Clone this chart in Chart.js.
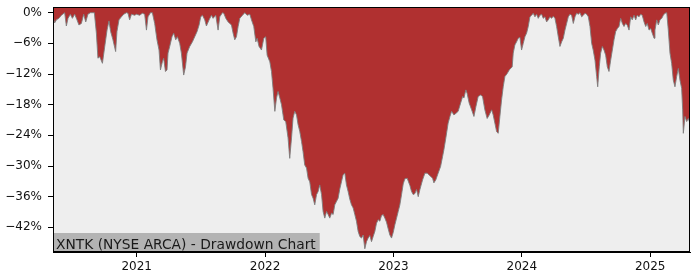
<!DOCTYPE html>
<html>
<head>
<meta charset="utf-8">
<script src="https://cdn.jsdelivr.net/npm/chart.js@4.4.1/dist/chart.umd.min.js"></script>
<style>
  html, body { margin: 0; padding: 0; background: #ffffff; }
  #wrap { width: 700px; height: 280px; }
</style>
</head>
<body>
<div id="wrap"><canvas id="c" width="700" height="280"></canvas></div>
<script>
// Decimal-year dates of the sampled points
const dates = [
  2020.348,2020.361,2020.374,2020.394,2020.413,2020.439,2020.452,2020.465,2020.483,2020.499,
  2020.517,2020.535,2020.550,2020.569,2020.587,2020.603,2020.620,2020.639,2020.670,2020.686,
  2020.698,2020.712,2020.733,2020.751,2020.769,2020.784,2020.797,2020.815,2020.836,2020.846,
  2020.862,2020.881,2020.899,2020.920,2020.932,2020.945,2020.959,2020.984,2020.998,2021.023,
  2021.044,2021.062,2021.076,2021.088,2021.107,2021.122,2021.140,2021.158,2021.174,2021.185,
  2021.200,2021.210,2021.224,2021.236,2021.244,2021.257,2021.275,2021.288,2021.304,2021.317,
  2021.335,2021.348,2021.366,2021.380,2021.392,2021.413,2021.434,2021.452,2021.470,2021.486,
  2021.499,2021.512,2021.530,2021.543,2021.564,2021.582,2021.595,2021.616,2021.634,2021.647,
  2021.668,2021.678,2021.694,2021.712,2021.725,2021.738,2021.751,2021.764,2021.777,2021.790,
  2021.803,2021.824,2021.842,2021.860,2021.881,2021.894,2021.912,2021.928,2021.938,2021.953,
  2021.972,2021.990,2022.005,2022.016,2022.037,2022.050,2022.062,2022.076,2022.089,2022.101,
  2022.115,2022.128,2022.146,2022.161,2022.179,2022.192,2022.206,2022.218,2022.231,2022.245,
  2022.257,2022.270,2022.284,2022.296,2022.309,2022.323,2022.335,2022.348,2022.362,2022.374,
  2022.387,2022.401,2022.413,2022.426,2022.440,2022.452,2022.465,2022.479,2022.491,2022.504,
  2022.518,2022.530,2022.543,2022.557,2022.569,2022.582,2022.595,2022.608,2022.621,2022.634,
  2022.647,2022.660,2022.673,2022.686,2022.699,2022.712,2022.725,2022.738,2022.751,2022.764,
  2022.777,2022.790,2022.803,2022.816,2022.829,2022.842,2022.855,2022.868,2022.881,2022.894,
  2022.907,2022.920,2022.933,2022.946,2022.959,2022.972,2022.985,2022.998,2023.011,2023.024,
  2023.037,2023.050,2023.063,2023.076,2023.089,2023.107,2023.128,2023.141,2023.154,2023.167,
  2023.180,2023.193,2023.206,2023.227,2023.245,2023.263,2023.284,2023.305,2023.315,2023.330,
  2023.348,2023.367,2023.383,2023.393,2023.408,2023.426,2023.440,2023.453,2023.471,2023.486,
  2023.504,2023.523,2023.539,2023.549,2023.564,2023.574,2023.590,2023.609,2023.627,2023.642,
  2023.660,2023.679,2023.694,2023.712,2023.730,2023.746,2023.765,2023.777,2023.790,2023.804,
  2023.816,2023.829,2023.842,2023.855,2023.868,2023.886,2023.902,2023.913,2023.925,2023.933,
  2023.946,2023.959,2023.972,2023.985,2023.998,2024.011,2024.024,2024.037,2024.050,2024.063,
  2024.076,2024.089,2024.102,2024.115,2024.128,2024.141,2024.154,2024.167,2024.180,2024.193,
  2024.206,2024.219,2024.232,2024.245,2024.258,2024.271,2024.284,2024.297,2024.310,2024.323,
  2024.336,2024.349,2024.362,2024.375,2024.388,2024.401,2024.414,2024.427,2024.440,2024.453,
  2024.466,2024.479,2024.492,2024.505,2024.518,2024.531,2024.544,2024.556,2024.570,2024.583,
  2024.591,2024.603,2024.614,2024.627,2024.640,2024.653,2024.666,2024.679,2024.692,2024.705,
  2024.718,2024.731,2024.744,2024.757,2024.770,2024.783,2024.796,2024.809,2024.821,2024.835,
  2024.848,2024.860,2024.874,2024.887,2024.899,2024.913,2024.926,2024.938,2024.952,2024.965,
  2024.977,2024.991,2025.004,2025.016,2025.030,2025.037,2025.051,2025.063,2025.076,2025.090,
  2025.102,2025.115,2025.129,2025.141,2025.154,2025.167,2025.180,2025.193,2025.206,2025.219,
  2025.232,2025.245,2025.253,2025.258,2025.271,2025.284,2025.297,2025.308
];

// Drawdown (%) at each date
const drawdown = [
  -0.8,-2.0,-1.4,-1.1,-0.5,0,-2.6,-1.1,-0.3,-1.1,
  -0.3,-1.4,-2.4,-2.1,-0.3,-1.8,-0.3,0,0,-4.0,
  -8.9,-8.6,-9.9,-6.6,-3.4,-1.6,-3.7,-5.3,-7.6,-3.7,
  -1.4,-0.8,-0.3,0,-0.1,-1.4,-0.3,-0.5,-0.3,-0.5,
  -0.1,-0.3,-3.4,-0.8,0,0,-2.1,-5.3,-7.3,-11.2,
  -9.6,-8.9,-11.5,-11.2,-7.9,-6.6,-4.7,-4.0,-5.3,-4.7,
  -6.0,-7.9,-12.2,-10.6,-7.9,-6.6,-5.7,-4.7,-3.7,-2.4,
  -0.8,-0.5,-1.4,-2.6,-1.4,-0.5,-1.1,-0.5,-3.4,-0.8,
  0,-0.1,-1.1,-1.8,-2.1,-2.4,-4.0,-5.3,-4.7,-2.7,
  -1.1,-0.5,0,-0.5,-0.3,-1.4,-2.7,-5.7,-5.0,-6.6,
  -7.3,-5.0,-4.7,-8.3,-9.6,-11.5,-14.8,-19.3,-16.7,-15.4,
  -16.7,-18.0,-21.0,-21.3,-24.5,-28.5,-24.5,-20.6,-19.3,-20.0,
  -21.9,-23.2,-25.2,-27.2,-29.8,-30.4,-32.4,-33.1,-35.6,-36.3,
  -37.6,-35.6,-35.0,-33.7,-35.6,-38.9,-40.2,-38.9,-39.5,-40.2,
  -39.2,-39.5,-37.6,-36.9,-36.3,-34.5,-33.1,-31.7,-31.4,-33.7,
  -35.0,-36.5,-37.6,-38.2,-39.5,-40.8,-42.8,-43.8,-44.1,-43.5,
  -46.2,-44.8,-44.1,-43.6,-44.8,-43.8,-42.8,-41.2,-40.5,-40.8,
  -39.7,-39.5,-40.2,-41.0,-42.3,-43.5,-44.1,-43.0,-41.5,-40.2,
  -38.9,-37.6,-35.6,-33.5,-32.5,-32.4,-33.8,-35.0,-35.6,-35.4,
  -34.6,-36.0,-34.6,-32.7,-31.4,-31.4,-31.9,-32.4,-33.3,-32.7,
  -31.4,-30.1,-28.1,-26.8,-24.5,-21.6,-20.3,-19.3,-20.0,-19.7,
  -19.3,-17.7,-16.4,-16.7,-15.1,-15.8,-17.7,-19.0,-20.3,-18.4,
  -16.4,-16.1,-16.4,-19.0,-20.7,-20.0,-19.0,-20.0,-21.6,-23.3,
  -23.6,-20.3,-17.1,-14.5,-12.5,-11.9,-11.2,-10.9,-10.6,-7.9,
  -6.3,-5.7,-5.0,-4.8,-7.3,-6.0,-4.7,-4.0,-2.7,-0.8,
  -0.5,-0.1,-0.8,-0.3,-1.1,-0.5,-0.3,-1.1,-0.8,-1.8,
  -1.4,-0.8,-1.1,-0.7,-1.1,-2.7,-4.7,-6.6,-5.7,-5.0,
  -3.4,-2.1,-0.8,-0.3,-0.5,-2.1,-0.8,-0.1,-0.3,0,
  -0.8,-0.5,-0.1,-0.3,-0.8,-2.7,-6.0,-7.3,-9.3,-12.5,
  -14.5,-10.6,-7.9,-6.6,-7.3,-8.3,-10.6,-11.5,-9.3,-7.3,
  -5.3,-3.7,-3.1,-2.7,-1.1,-2.1,-2.7,-2.1,-2.4,-3.4,
  -0.8,-1.4,-0.5,-1.4,-0.5,-0.8,-0.3,-0.5,-1.8,-2.7,
  -2.1,-3.4,-3.1,-4.0,-5.0,-3.4,-1.4,-2.4,-1.4,-1.1,
  -0.5,-0.1,0,-3.4,-7.9,-9.9,-13.2,-14.5,-12.5,-10.9,
  -13.2,-14.8,-19.0,-23.6,-20.3,-21.3,-20.7,-21.5
];

const xTickYears = [2021, 2022, 2023, 2024, 2025];
const yTickValues = [0, -6, -12, -18, -24, -30, -36, -42];
const xRange = [2020.348, 2025.310];
const yRange = [-46.83, 1.06];
const chartLabel = 'XNTK (NYSE ARCA) - Drawdown Chart';

const points = dates.map((d, i) => ({ x: d, y: drawdown[i] }));

const bgPlugin = {
  id: 'bg',
  beforeDraw(chart) {
    const { ctx, chartArea: a } = chart;
    ctx.save();
    ctx.fillStyle = '#ffffff';
    ctx.fillRect(0, 0, chart.width, chart.height);
    ctx.fillStyle = '#eeeeee';
    ctx.fillRect(a.left, a.top, a.right - a.left, a.bottom - a.top);
    ctx.restore();
  }
};

const labelPlugin = {
  id: 'lbl',
  afterDatasetsDraw(chart) {
    const { ctx, chartArea: a } = chart;
    ctx.save();
    ctx.font = '13.8px "DejaVu Sans"';
    const w = ctx.measureText(chartLabel).width;
    const h = 19;
    ctx.fillStyle = '#b3b3b3';
    ctx.fillRect(a.left, a.bottom - h, w + 7, h);
    ctx.fillStyle = '#1a1a1a';
    ctx.textBaseline = 'alphabetic';
    ctx.textAlign = 'left';
    ctx.fillText(chartLabel, a.left + 3, a.bottom - 3.5);
    ctx.restore();
  },
  afterDraw(chart) {
    const { ctx, chartArea: a } = chart;
    ctx.save();
    ctx.strokeStyle = '#000000';
    ctx.lineWidth = 1;
    ctx.strokeRect(Math.round(a.left) + 0.5, Math.round(a.top) + 0.5,
                   Math.round(a.right - a.left) - 1, Math.round(a.bottom - a.top) - 1);
    ctx.restore();
  }
};

const tickFont = { family: 'DejaVu Sans', size: 12 };

new Chart(document.getElementById('c'), {
  type: 'line',
  data: {
    datasets: [{
      data: points,
      borderColor: 'rgba(125,125,125,0.9)',
      borderWidth: 1,
      backgroundColor: '#b03030',
      fill: 'end',
      pointRadius: 0,
      tension: 0
    }]
  },
  options: {
    responsive: false,
    animation: false,
    devicePixelRatio: 1,
    layout: { padding: { top: 7.3, right: 10, left: 0, bottom: 0 } },
    plugins: { legend: { display: false }, tooltip: { enabled: false }, title: { display: false } },
    scales: {
      x: {
        type: 'linear',
        min: xRange[0],
        max: xRange[1],
        afterBuildTicks: s => { s.ticks = xTickYears.map(v => ({ value: v })); },
        afterFit: s => { s.height = 28; s.paddingLeft = 0; s.paddingRight = 0; },
        ticks: {
          autoSkip: false,
          maxRotation: 0,
          padding: 3,
          color: '#111111',
          font: tickFont,
          callback: v => String(v)
        },
        grid: { drawOnChartArea: false, drawTicks: true, tickLength: 5, color: '#000000' },
        border: { display: true, color: '#000000', width: 1 }
      },
      y: {
        type: 'linear',
        min: yRange[0],
        max: yRange[1],
        afterBuildTicks: s => { s.ticks = yTickValues.map(v => ({ value: v })); },
        afterFit: s => { s.width = 53; s.paddingTop = 0; s.paddingBottom = 0; },
        ticks: {
          autoSkip: false,
          padding: 6,
          color: '#111111',
          font: tickFont,
          callback: v => (v === 0 ? '0%' : '\u2212' + Math.abs(v) + '%')
        },
        grid: { drawOnChartArea: false, drawTicks: true, tickLength: 5, color: '#000000' },
        border: { display: true, color: '#000000', width: 1 }
      }
    }
  },
  plugins: [bgPlugin, labelPlugin]
});
</script>
</body>
</html>
